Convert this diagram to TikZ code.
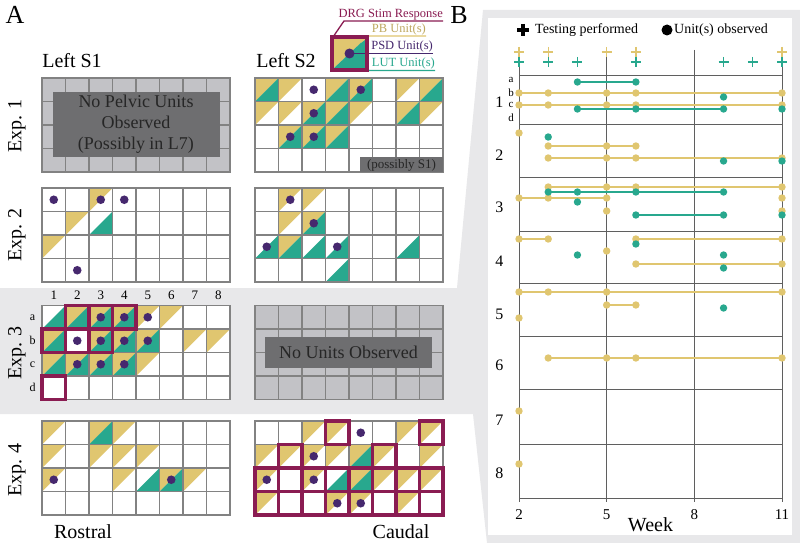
\documentclass[tikz,border=0pt]{standalone}
\usepackage{fontspec}
\setmainfont{Liberation Serif}
\definecolor{pbc}{RGB}{224,198,112}
\definecolor{lutc}{RGB}{40,168,142}
\definecolor{psdc}{RGB}{70,40,110}
\definecolor{drgc}{RGB}{138,28,82}
\definecolor{glc}{RGB}{130,130,130}
\definecolor{bandc}{RGB}{232,232,234}
\definecolor{cellg}{RGB}{194,194,198}
\definecolor{boxg}{RGB}{110,110,112}
\definecolor{axc}{RGB}{95,95,95}
\newcommand\ycells[1]{\foreach \c/\r in {#1} {\fill[pbc] (\c-1,\r-1) -- (\c,\r-1) -- (\c-1,\r) -- cycle;}}
\newcommand\tcells[1]{\foreach \c/\r in {#1} {\fill[lutc] (\c,\r-1) -- (\c,\r) -- (\c-1,\r) -- cycle;}}
\newcommand\dcells[1]{\foreach \c/\r in {#1} {\fill[psdc] (\c-0.5,\r-0.5) circle[radius=4.3pt];}}
\newcommand\mcells[1]{\foreach \c/\r in {#1} {\draw[drgc, line width=3.8pt] (\c-1,\r-1) rectangle (\c,\r);}}
\newcommand\gridln{\foreach \i in {0,...,8} {\draw[glc, line width=1.8pt] (\i,0) -- (\i,4);}
  \foreach \j in {0,...,4} {\draw[glc, line width=1.8pt] (0,\j) -- (8,\j);}
  \draw[glc, line width=1.8pt, line join=miter] (0,0) rectangle (8,4);}
\newcommand\ydots[2]{\foreach \w in {#2} {\fill[pbc] (\w,#1) circle[radius=3.7pt];}}
\newcommand\tdots[2]{\foreach \w in {#2} {\fill[lutc] (\w,#1) circle[radius=3.7pt];}}
\begin{document}
\begin{tikzpicture}[x=1pt,y=-1pt,
  big/.style={inner sep=0pt, font=\fontsize{26}{30}\selectfont},
  lbl/.style={inner sep=0pt, font=\fontsize{20}{24}\selectfont},
  boxtxt/.style={inner sep=0pt, font=\fontsize{18}{22}\selectfont, text=black!85, align=center},
  small/.style={inner sep=0pt, font=\fontsize{13}{15}\selectfont},
  tiny/.style={inner sep=0pt, font=\fontsize{12}{14}\selectfont},
  legt/.style={inner sep=0pt, font=\fontsize{12.5}{15}\selectfont},
  ylin/.style={pbc, line width=1.8pt},
  tlin/.style={lutc, line width=2pt},
  axl/.style={axc, line width=0.9pt}]
\useasboundingbox (0,0) rectangle (800,543);
\fill[white] (0,0) rectangle (800,543);
% gray band and panel B frame
\fill[bandc] (0,288) -- (457,288) -- (483,10) -- (800,10) -- (800,543) -- (487,543) -- (473,414) -- (0,414) -- cycle;
\fill[white] (488,18) rectangle (792,535);

% ---------- Panel A headings ----------
\node[big] (A) at (15,15) {A};
\node[big] (B) at (459,15) {B};
\node[lbl] (ls1) at (72,61) {Left S1};
\node[lbl] (ls2) at (286,61) {Left S2};
\node[lbl, rotate=90] (e1) at (17,126) {Exp. 1};
\node[lbl, rotate=90] (e2) at (17,235) {Exp. 2};
\node[lbl, rotate=90] (e3) at (17,353) {Exp. 3};
\node[lbl, rotate=90] (e4) at (17,470) {Exp. 4};
\node[lbl] (ros) at (83,532) {Rostral};
\node[lbl] (cau) at (401,532) {Caudal};

% ---------- Exp 1 left (gray) ----------
\begin{scope}[shift={(42,78)}, x=23.5pt, y=-23.5pt]
  \fill[cellg] (0,0) rectangle (8,4);
  \gridln
\end{scope}
\fill[boxg] (53,92) rectangle (220,157);
\node[boxtxt] (np) at (136,124) {No Pelvic Units\\[-1pt]Observed\\[-1pt](Possibly in L7)};

% ---------- Exp 1 right ----------
\begin{scope}[shift={(255,78)}, x=23.5pt, y=-23.5pt]
  \fill[white] (0,0) rectangle (8,4);
  \ycells{1/1,2/1,4/1,5/1,7/1,8/1,1/2,2/2,3/2,4/2,5/2,7/2,8/2,2/3,3/3,4/3}
  \tcells{1/1,4/1,5/1,8/1,3/2,4/2,7/2,2/3,3/3,4/3}
  \gridln
  \dcells{3/1,5/1,3/2,2/3,3/3}
\end{scope}
\fill[boxg] (360,157) rectangle (443,172);
\node[inner sep=0pt, font=\fontsize{13}{15}\selectfont, text=black!85] (ps1) at (401.5,165) {(possibly S1)};

% ---------- Exp 2 left ----------
\begin{scope}[shift={(42,188)}, x=23.5pt, y=-23.5pt]
  \fill[white] (0,0) rectangle (8,4);
  \ycells{3/1,2/2,1/3}
  \tcells{3/2}
  \gridln
  \dcells{1/1,3/1,4/1,2/4}
\end{scope}
% ---------- Exp 2 right ----------
\begin{scope}[shift={(255,188)}, x=23.5pt, y=-23.5pt]
  \fill[white] (0,0) rectangle (8,4);
  \ycells{2/1,3/1,2/2,3/2,2/3}
  \tcells{3/2,1/3,2/3,3/3,4/3,7/3,4/4}
  \gridln
  \dcells{2/1,3/2,1/3,4/3}
\end{scope}

% ---------- Exp 3 left ----------
\begin{scope}[shift={(42,305.5)}, x=23.5pt, y=-23.5pt]
  \fill[white] (0,0) rectangle (8,4);
  \ycells{2/1,3/1,4/1,5/1,6/1,1/2,3/2,4/2,5/2,7/2,8/2,1/3,2/3,3/3,4/3,5/3}
  \tcells{1/1,2/1,3/1,4/1,1/2,3/2,4/2,5/2,1/3,2/3,3/3,4/3}
  \gridln
  \dcells{3/1,4/1,5/1,2/2,3/2,4/2,5/2,2/3,3/3,4/3}
  \mcells{2/1,3/1,4/1,1/2,2/2,3/2,1/4}
  \foreach \n in {1,...,8} {\node[small] (col\n) at (\n-0.5,-0.45) {\n};}
  \node[tiny] (ra) at (-0.4,0.5) {a};
  \node[tiny] (rb) at (-0.4,1.5) {b};
  \node[tiny] (rc) at (-0.4,2.5) {c};
  \node[tiny] (rd) at (-0.4,3.5) {d};
\end{scope}
% ---------- Exp 3 right (gray) ----------
\begin{scope}[shift={(255,305.5)}, x=23.5pt, y=-23.5pt]
  \fill[cellg] (0,0) rectangle (8,4);
  \gridln
\end{scope}
\fill[boxg] (265,337) rectangle (432,368);
\node[boxtxt] (nu) at (348.5,352.5) {No Units Observed};

% ---------- Exp 4 left ----------
\begin{scope}[shift={(42,421)}, x=23.5pt, y=-23.5pt]
  \fill[white] (0,0) rectangle (8,4);
  \ycells{1/1,3/1,4/1,1/2,3/2,4/2,5/2,1/3,4/3,6/3,7/3}
  \tcells{3/1,5/3,6/3}
  \gridln
  \dcells{1/3,6/3}
\end{scope}
% ---------- Exp 4 right ----------
\begin{scope}[shift={(255,421)}, x=23.5pt, y=-23.5pt]
  \fill[white] (0,0) rectangle (8,4);
  \ycells{3/1,4/1,7/1,8/1,1/2,2/2,3/2,4/2,5/2,6/2,8/2,1/3,3/3,5/3,6/3,7/3,8/3,1/4,4/4,5/4,7/4}
  \tcells{5/2,4/3,5/3}
  \gridln
  \dcells{5/1,3/2,1/3,3/3,4/4,5/4}
  \mcells{4/1,8/1,2/2,6/2,1/3,2/3,3/3,4/3,5/3,6/3,7/3,8/3,1/4,2/4,3/4,4/4,5/4,6/4,7/4,8/4}
\end{scope}

% ---------- Legend of panel A ----------
\fill[pbc] (334,39) -- (365,39) -- (334,68) -- cycle;
\fill[lutc] (365,39) -- (365,68) -- (334,68) -- cycle;
\node[legt, text=drgc, anchor=south east] (ldrg) at (443,20) {DRG Stim Response};
\node[legt, text=pbc!85!black, anchor=south east] (lpb) at (426,35) {PB Unit(s)};
\node[legt, text=psdc, anchor=south east] (lpsd) at (433,52.5) {PSD Unit(s)};
\node[legt, text=lutc, anchor=south east] (llut) at (435,69.5) {LUT Unit(s)};
\draw[drgc, line width=1.3pt] (333,37) -- (344,21) -- (ldrg.south east |- 0,21);
\draw[pbc, line width=1.3pt] (361,42) -- (369,36) -- (lpb.south east |- 0,36);
\coordinate (ldot) at (349.5,53.5);
\draw[psdc, line width=1.3pt] (ldot) -- (lpsd.south east |- 0,53.5);
\draw[lutc, line width=1.3pt] (361,64) -- (369,70.5) -- (llut.south east |- 0,70.5);
\fill[psdc] (ldot) circle[radius=5pt];
\draw[drgc, line width=4.5pt] (332,37) rectangle (367,70);

% ---------- Panel B ----------
\draw[black, line width=3.6pt] (517,30) -- (529,30) (523,24) -- (523,36);
\node[inner sep=0pt, font=\fontsize{14}{16}\selectfont, anchor=west] (tp) at (535,30) {Testing performed};
\fill[black] (667,30) circle[radius=5.5pt];
\node[inner sep=0pt, font=\fontsize{14}{16}\selectfont, anchor=west] (uo) at (674,30) {Unit(s) observed};

\begin{scope}[shift={(460.556,0)}, x=29.222pt]
  % axes grid
  \foreach \w in {2,5,8,11} {\draw[axl] (\w,50) -- (\w,502);}
  \foreach \yy in {75,124,177,231,283,336,389,444,498} {\draw[axl] (2,\yy) -- (11,\yy);}
  % pluses
  \foreach \w in {2,3,5,6,11} {\draw[pbc, line width=1.3pt] (\w,52) ++(-5pt,0) -- ++(10pt,0) (\w,47) -- (\w,57);}
  \foreach \w in {2,3,4,6,9,10,11} {\draw[lutc, line width=1.3pt] (\w,62) ++(-5pt,0) -- ++(10pt,0) (\w,57) -- (\w,67);}
  % axis labels
  \node[inner sep=0pt, font=\fontsize{15}{17}\selectfont] (w2) at (2,515) {2};
  \node[inner sep=0pt, font=\fontsize{15}{17}\selectfont] (w5) at (5,515) {5};
  \node[inner sep=0pt, font=\fontsize{15}{17}\selectfont] (w8) at (8,515) {8};
  \node[inner sep=0pt, font=\fontsize{15}{17}\selectfont] (w11) at (11,515) {11};
  \node[lbl] (wk) at (6.5,525) {Week};
  % group labels
  \foreach \g/\yy in {1/102,2/155,3/207,4/261,5/314,6/365,7/420,8/473} {\node[inner sep=0pt, font=\fontsize{16}{18}\selectfont] (g\g) at (1.33,\yy) {\g};}
  \node[inner sep=0pt, font=\fontsize{11}{12}\selectfont] (sa) at (1.73,80) {a};
  \node[inner sep=0pt, font=\fontsize{11}{12}\selectfont] (sb) at (1.73,92.5) {b};
  \node[inner sep=0pt, font=\fontsize{11}{12}\selectfont] (sc) at (1.73,105) {c};
  \node[inner sep=0pt, font=\fontsize{11}{12}\selectfont] (sd) at (1.73,118) {d};
  % group 1
  \draw[ylin] (2,93) -- (11,93); \ydots{93}{2,3,5,6,11}
  \draw[ylin] (2,105) -- (11,105); \ydots{105}{2,3,5,6,11}
  \draw[tlin] (4,82) -- (6,82); \tdots{82}{4,6}
  \tdots{97}{9}
  \draw[tlin] (4,109) -- (9,109); \tdots{109}{4,6,9,11}
  % group 2
  \ydots{133}{2}
  \draw[ylin] (3,146) -- (6,146); \ydots{146}{3,5,6}
  \draw[ylin] (3,158) -- (11,158); \ydots{158}{3,5,6,11}
  \tdots{137}{3}
  \tdots{161}{9,11}
  % group 3
  \draw[ylin] (3,187) -- (11,187); \ydots{187}{3,5,6,11}
  \draw[ylin] (2,198) -- (5,198); \ydots{198}{2,3,5,11}
  \ydots{211}{5,11}
  \draw[tlin] (3,192) -- (9,192); \tdots{192}{3,4,6,9}
  \tdots{202}{4}
  \draw[tlin] (6,215) -- (9,215); \tdots{215}{6,9,11}
  % group 4
  \draw[ylin] (2,239) -- (3,239); \draw[ylin] (6,239) -- (11,239); \ydots{239}{2,3,6,11}
  \ydots{251}{5}
  \draw[ylin] (6,264) -- (11,264); \ydots{264}{6,11}
  \tdots{244}{6}
  \tdots{255}{4,9}
  \tdots{268}{9}
  % group 5
  \draw[ylin] (2,292) -- (11,292); \ydots{292}{2,3,5,11}
  \draw[ylin] (5,305) -- (6,305); \ydots{305}{5,6}
  \ydots{318}{2}
  \tdots{308}{9}
  % group 6-8
  \draw[ylin] (3,358) -- (11,358); \ydots{358}{3,5,6,11}
  \ydots{411}{2}
  \ydots{464}{2}
\end{scope}
\end{tikzpicture}
\end{document}
